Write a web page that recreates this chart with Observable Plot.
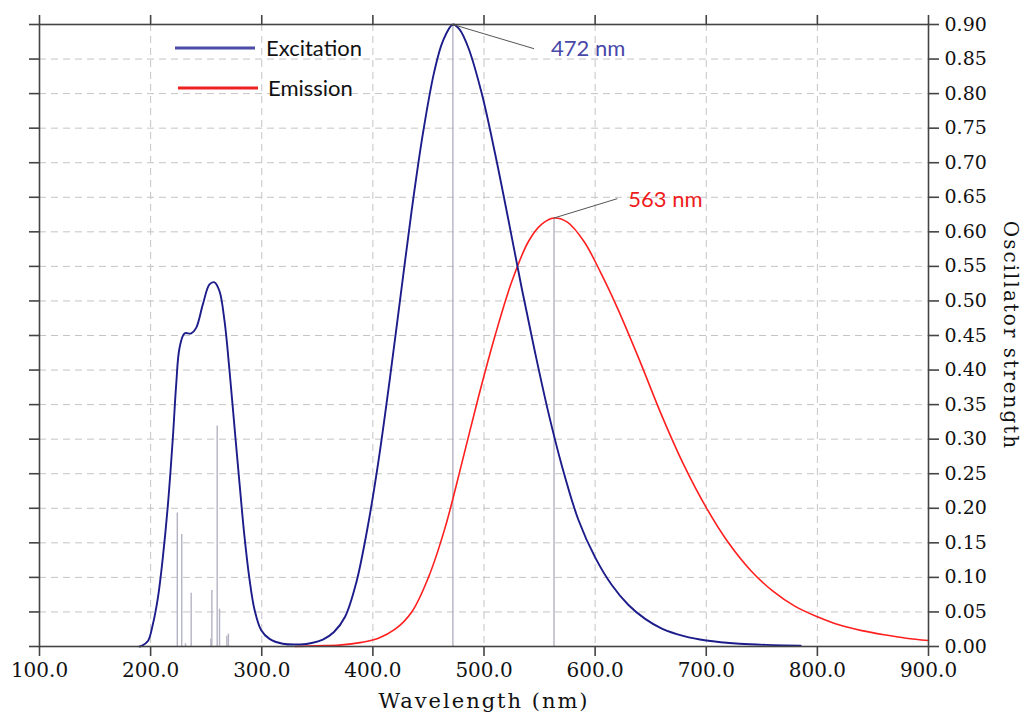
<!DOCTYPE html>
<html><head><meta charset="utf-8">
<script src="https://cdn.jsdelivr.net/npm/d3@7"></script>
<script src="https://cdn.jsdelivr.net/npm/@observablehq/plot@0.6"></script>
<style>
body{margin:0;background:#fff}
#chart{width:1026px;height:714px}
</style>
</head><body><div id="chart"></div>
<script>
// ---- data ----
const exWl  = [190,192,197.6,202,206.6,211,215.6,220,223,226,230.5,236.5,241,247,253,257.5,262,266.5,271,275.5,280,284.4,289,293.4,299.4,307,319,335,345,355,365,375,385,395,405,415,425,435,445,455,463,472,478,486,498,510,522,534,546,558,570,585,600,615,630,645,660,680,700,730,760,785];
const exVal = [0,0.001,0.008,0.032,0.071,0.129,0.206,0.302,0.379,0.432,0.453,0.453,0.461,0.495,0.524,0.527,0.514,0.471,0.399,0.317,0.236,0.160,0.097,0.054,0.024,0.011,0.004,0.003,0.005,0.010,0.021,0.043,0.092,0.170,0.268,0.384,0.508,0.632,0.742,0.830,0.876,0.900,0.893,0.866,0.800,0.713,0.617,0.518,0.425,0.338,0.262,0.183,0.129,0.089,0.060,0.040,0.026,0.015,0.0087,0.004,0.002,0.001];
const emWl  = [330,350,370,390,405,420,435,450,465,480,495,510,525,540,552,563,575,590,605,620,640,660,680,700,720,740,760,780,800,820,840,860,880,900];
const emVal = [0,0.001,0.002,0.006,0.012,0.025,0.050,0.100,0.172,0.265,0.361,0.450,0.528,0.586,0.611,0.620,0.614,0.586,0.541,0.490,0.414,0.334,0.262,0.201,0.150,0.110,0.080,0.058,0.043,0.031,0.023,0.017,0.012,0.0087];
const stickWl = [224,228,231.4,236.5,254.2,255.1,259.9,262,268.6,270,472,563];
const stickF  = [0.193,0.162,0.004,0.077,0.011,0.081,0.319,0.054,0.015,0.018,0.90,0.62];
const annWl   = [472,563];
const annVal  = [0.90,0.62];
const annText = ["472 nm","563 nm"];
const seriesNames = ["Excitation","Emission"];
const xTicks = [100,200,300,400,500,600,700,800,900];
const yTicks = [0,0.05,0.10,0.15,0.20,0.25,0.30,0.35,0.40,0.45,0.50,0.55,0.60,0.65,0.70,0.75,0.80,0.85,0.90];
const xTitle = "Wavelength (nm)";
const yTitle = "Oscillator strength";

const ex = exWl.map((w,i)=>({wl:w, v:exVal[i]}));
const em = emWl.map((w,i)=>({wl:w, v:emVal[i]}));
const sticks = stickWl.map((w,i)=>({wl:w, f:stickF[i]}));
const ann = annWl.map((w,i)=>({wl:w, v:annVal[i], t:annText[i]}));

const exColor = "#1c1c8a", emColor = "#ff1f1f";
const serif = "DejaVu Serif", sans = "Lato";

const plot = Plot.plot({
  width: 1026, height: 714,
  marginLeft: 39, marginRight: 98, marginTop: 24, marginBottom: 68,
  x: {domain: [100, 900], label: null},
  y: {domain: [0, 0.9], label: null},
  style: {fontFamily: serif, fontSize: "20px", color: "#111", background: "#fff", overflow: "visible"},
  marks: [
    Plot.gridX(xTicks.slice(1, -1), {stroke: "#c4c4c4", strokeOpacity: 1, strokeDasharray: "7,5", strokeWidth: 1}),
    Plot.gridY(yTicks.slice(1, -1), {stroke: "#c4c4c4", strokeOpacity: 1, strokeDasharray: "7,5", strokeWidth: 1}),
    Plot.ruleX(sticks, {x: "wl", y1: 0, y2: "f", stroke: "#b3b3c3", strokeWidth: 1.4}),
    Plot.line(em, {x: "wl", y: "v", stroke: emColor, strokeWidth: 1.6, curve: "catmull-rom"}),
    Plot.line(ex, {x: "wl", y: "v", stroke: exColor, strokeWidth: 1.9, curve: "catmull-rom"}),
    Plot.link([ann[0]], {x1: "wl", y1: "v", x2: d => d.wl + 73, y2: d => d.v - 0.035, stroke: "#555", strokeWidth: 1}),
    Plot.link([ann[1]], {x1: "wl", y1: "v", x2: d => d.wl + 57, y2: d => d.v + 0.028, stroke: "#555", strokeWidth: 1}),
    Plot.text([ann[0]], {x: d => d.wl + 73, y: d => d.v - 0.035, text: "t", dx: 17, dy: 0, textAnchor: "start", lineAnchor: "middle", fill: "#4848a8", fontFamily: sans, fontSize: 22}),
    Plot.text([ann[1]], {x: d => d.wl + 57, y: d => d.v + 0.028, text: "t", dx: 11, dy: 1, textAnchor: "start", lineAnchor: "middle", fill: "#ee1c1c", fontFamily: sans, fontSize: 22}),
    Plot.frame({stroke: "#444", strokeWidth: 1.6}),
    Plot.axisX(xTicks, {anchor: "bottom", tickSize: 10, tickPadding: 6, tickFormat: d3.format(".1f"), label: null, stroke: "#444", strokeWidth: 1.6, fill: "#111", fontFamily: serif, fontSize: 20}),
    Plot.axisX(xTicks, {anchor: "top", tickSize: 10, tickFormat: () => "", label: null, stroke: "#444", strokeWidth: 1.6}),
    Plot.axisY(yTicks, {anchor: "left", tickSize: 10, tickFormat: () => "", label: null, stroke: "#444", strokeWidth: 1.6}),
    Plot.axisY(yTicks, {anchor: "right", tickSize: 10, tickPadding: 6, tickFormat: d3.format(".2f"), label: null, stroke: "#444", strokeWidth: 1.6, fill: "#111", fontFamily: serif, fontSize: 19}),
    Plot.text([xTitle], {frameAnchor: "bottom", dy: 61, textAnchor: "middle", lineAnchor: "bottom", fontFamily: serif, fontSize: 21, fill: "#111"}),
    Plot.text([yTitle], {frameAnchor: "right", rotate: 90, dx: 82, textAnchor: "middle", lineAnchor: "middle", fontFamily: serif, fontSize: 20, fill: "#111"})
  ]
});

// letter spacing for the axis titles
d3.select(plot).selectAll("text").filter(function(){ return this.textContent === xTitle || this.textContent === yTitle; })
  .style("letter-spacing", "2px");

// legend inside the plot, top-left
const lg = d3.select(plot).append("g").attr("font-family", sans).attr("font-size", 22).attr("text-anchor", "start");
const legendRows = [
  {name: seriesNames[0], color: "#4b4ba8", x1: 175, x2: 255, y: 48, tx: 266},
  {name: seriesNames[1], color: "#ee2020", x1: 178, x2: 258, y: 88, tx: 268}
];
legendRows.forEach(r => {
  lg.append("line").attr("x1", r.x1).attr("x2", r.x2).attr("y1", r.y).attr("y2", r.y)
    .attr("stroke", r.color).attr("stroke-width", 3);
  lg.append("text").attr("x", r.tx).attr("y", r.y + 8).attr("fill", "#111").attr("text-anchor", "start").text(r.name);
});

document.getElementById("chart").appendChild(plot);
</script>
</body></html>
